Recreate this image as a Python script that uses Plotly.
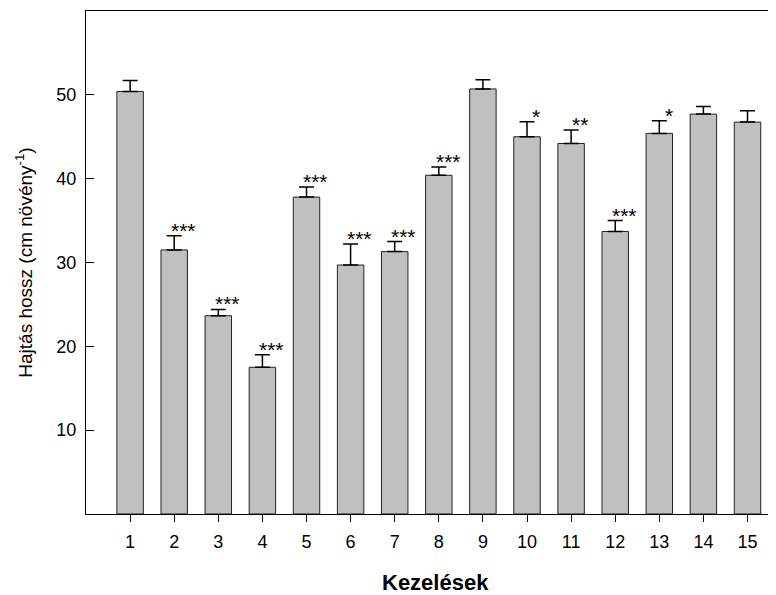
import plotly.graph_objects as go

treatments = list(range(1, 16))
means = [50.4, 31.5, 23.65, 17.5, 37.8, 29.7, 31.3, 40.4, 50.7, 45.0, 44.2, 33.7, 45.4, 47.7, 46.75]
errors = [1.3, 1.7, 0.75, 1.5, 1.2, 2.5, 1.2, 1.0, 1.1, 1.8, 1.6, 1.3, 1.5, 0.9, 1.35]
signif = ["", "***", "***", "***", "***", "***", "***", "***", "", "*", "**", "***", "*", "", ""]
y_ticks = [10, 20, 30, 40, 50]

FONT = "Arial, Liberation Sans, sans-serif"

fig = go.Figure()
fig.add_trace(go.Bar(
    x=treatments, y=means, width=0.6,
    marker=dict(color="#c0c0c0", line=dict(color="#222222", width=1)),
    error_y=dict(type="data", array=errors, arrayminus=[0] * len(errors), symmetric=False,
                 color="black", thickness=1.5, width=7.5),
    showlegend=False,
))

annotations = []
for x, m, e, s in zip(treatments, means, errors, signif):
    if s:
        annotations.append(dict(x=x + 0.21, y=m + e, text=s, showarrow=False,
                                xanchor="center", yanchor="bottom", yshift=-8,
                                font=dict(family=FONT, size=21, color="black")))

annotations.append(dict(text="Kezelések", xref="paper", yref="paper", x=0.507, y=-0.136,
                        xanchor="center", yanchor="middle", showarrow=False,
                        font=dict(family=FONT, size=22, color="black", weight="bold")))
annotations.append(dict(text="Hajtás hossz (cm növény<sup>-1</sup>)", xref="paper", yref="paper",
                        x=-0.091, y=0.5, xanchor="center", yanchor="middle", textangle=-90,
                        showarrow=False, font=dict(family=FONT, size=19, color="black")))

fig.update_layout(
    width=768, height=587,
    margin=dict(l=78, r=0, t=3, b=81),
    plot_bgcolor="white", paper_bgcolor="white",
    font=dict(family=FONT, size=18, color="black"),
    annotations=annotations,
    xaxis=dict(range=[0, 15.646], tickvals=treatments, ticktext=[str(t) for t in treatments],
               showline=True, linecolor="black", linewidth=1, mirror=True,
               ticks="outside", ticklen=7, tickcolor="black", showgrid=False, zeroline=False,
               tickfont=dict(size=18), ticklabelstandoff=4),
    yaxis=dict(range=[0, 60], tickvals=y_ticks, showline=True, linecolor="black", linewidth=1,
               ticks="inside", ticklen=8, tickcolor="black", showgrid=False, zeroline=False,
               tickfont=dict(size=18), ticklabelstandoff=5),
)

fig.write_html("out.html")
